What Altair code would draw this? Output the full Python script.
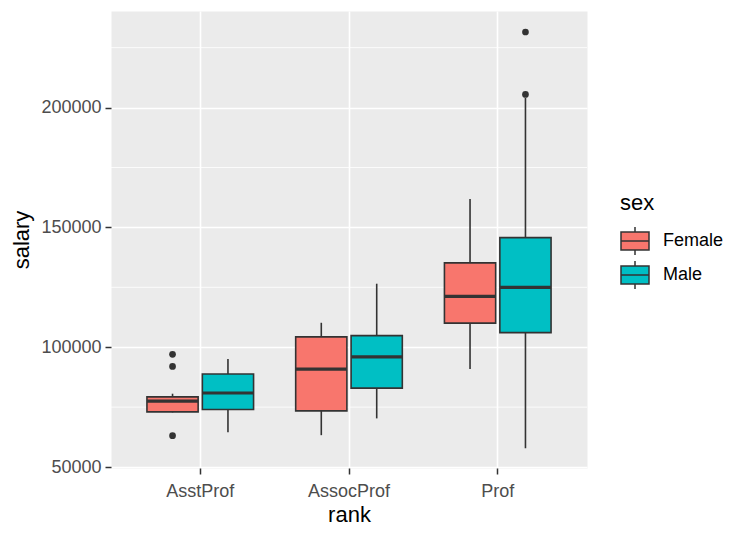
import altair as alt
import pandas as pd

rank_order = ["AsstProf", "AssocProf", "Prof"]
sex_order = ["Female", "Male"]
colors = ["#F8766D", "#00BFC4"]

box_rank = ["AsstProf", "AsstProf", "AssocProf", "AssocProf", "Prof", "Prof"]
box_sex = ["Female", "Male", "Female", "Male", "Female", "Male"]
whisk_lo = [72800, 64500, 63300, 70300, 90900, 57800]
q1 = [73000, 74000, 73450, 82950, 110050, 106100]
median = [77500, 80900, 90900, 95950, 121200, 124950]
q3 = [79300, 88800, 104300, 104850, 135200, 145750]
whisk_hi = [80600, 95100, 110200, 126500, 161800, 204000]

out_rank = ["AsstProf", "AsstProf", "AsstProf", "Prof", "Prof"]
out_sex = ["Female", "Female", "Female", "Male", "Male"]
out_val = [63100, 92000, 97032, 205500, 231545]

minor_grid = [75000, 125000, 175000, 225000]
major_ticks = [50000, 100000, 150000, 200000]

boxes = pd.DataFrame({"rank": box_rank, "sex": box_sex, "lo": whisk_lo,
                      "q1": q1, "med": median, "q3": q3, "hi": whisk_hi})
outs = pd.DataFrame({"rank": out_rank, "sex": out_sex, "salary": out_val})
minor = pd.DataFrame({"v": minor_grid})

FONT = "Liberation Sans"
GREY = "#333333"

yscale = alt.Scale(domain=[49600, 240300], nice=False, zero=False)
yaxis = alt.Axis(values=major_ticks, format="d", grid=True, gridColor="white",
                 gridWidth=1.6, tickColor=GREY, tickWidth=1.5, tickSize=6,
                 labelFontSize=18, labelColor="#4D4D4D", labelPadding=4,
                 labelFont=FONT, domain=False, titleFontSize=22,
                 titleColor="black", titleFontWeight="normal", titleFont=FONT,
                 titlePadding=7)
xscale = alt.Scale(domain=rank_order, paddingInner=0, paddingOuter=0.1)
xaxis = alt.Axis(grid=True, gridColor="white", gridWidth=1.6, tickColor=GREY,
                 tickWidth=1.5, tickSize=6, labelFontSize=18,
                 labelColor="#4D4D4D", labelPadding=8, labelFont=FONT,
                 domain=False, titleFontSize=22, titleColor="black",
                 titleFontWeight="normal", titleFont=FONT, titlePadding=4,
                 labelAngle=0, bandPosition=0.5)
xoff = alt.XOffset("sex:N", sort=sex_order,
                   scale=alt.Scale(domain=sex_order, paddingInner=0.076,
                                   paddingOuter=0.38))

X = alt.X("rank:N", sort=rank_order, scale=xscale, axis=xaxis, title="rank")

minor_layer = alt.Chart(minor).mark_rule(color="white", strokeWidth=0.8).encode(
    y=alt.Y("v:Q", scale=yscale, axis=yaxis, title="salary"))

whisk_layer = alt.Chart(boxes).mark_rule(color=GREY, strokeWidth=1.6).encode(
    x=X, xOffset=xoff,
    y=alt.Y("lo:Q", scale=yscale, axis=yaxis, title="salary"),
    y2="hi:Q")

box_layer = alt.Chart(boxes).mark_bar(stroke=GREY, strokeWidth=1.6,
                                      opacity=1).encode(
    x=X, xOffset=xoff,
    y=alt.Y("q1:Q", scale=yscale, axis=yaxis, title="salary"),
    y2="q3:Q",
    fill=alt.Fill("sex:N", sort=sex_order,
                  scale=alt.Scale(domain=sex_order, range=colors),
                  legend=alt.Legend(
                      orient="none", legendX=509, legendY=182, title="sex",
                      titleFontSize=22, titleFontWeight="normal",
                      titleColor="black", titleFont=FONT,
                      labelFontSize=18, labelColor="black", labelFont=FONT,
                      symbolType="M-1,-0.65H1V0.65H-1Z M-1,0H1 M0,-0.65V-1 M0,0.65V1",
                      symbolSize=784, symbolStrokeColor=GREY,
                      symbolStrokeWidth=1.5, symbolOpacity=1,
                      rowPadding=0, titlePadding=11, labelOffset=13,
                      padding=0)))

med_layer = alt.Chart(boxes).mark_tick(color=GREY, thickness=3.2, size=51,
                                       opacity=1).encode(
    x=X, xOffset=xoff,
    y=alt.Y("med:Q", scale=yscale, axis=yaxis, title="salary"))

out_layer = alt.Chart(outs).mark_circle(size=45, color=GREY, opacity=1).encode(
    x=X, xOffset=xoff,
    y=alt.Y("salary:Q", scale=yscale, axis=yaxis, title="salary"))

chart = alt.layer(minor_layer, whisk_layer, box_layer, med_layer, out_layer).properties(
    width=476, height=457,
    autosize=alt.AutoSizeParams(type="none"),
    padding={"left": 103, "top": 3, "right": 150, "bottom": 64},
    background="white",
).configure_view(fill="#EBEBEB", stroke="transparent")

chart.save("out.html", embed_options={"renderer": "svg", "actions": False})
